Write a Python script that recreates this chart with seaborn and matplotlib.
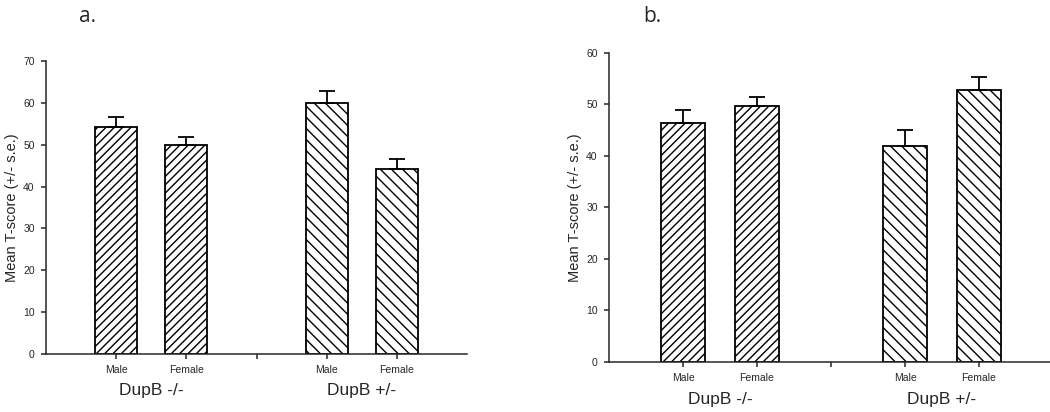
import numpy as np
import matplotlib
matplotlib.use('Agg')
import matplotlib.pyplot as plt
import matplotlib.transforms as mtransforms
import seaborn as sns
import pandas as pd

# Data
sexes = ['Male', 'Female', 'Male', 'Female']
genotypes = ['DupB -/-', 'DupB -/-', 'DupB +/-', 'DupB +/-']
positions = [1, 2, 4, 5]
tick_positions = [1, 2, 3, 4, 5]
tick_labels = ['Male', 'Female', '', 'Male', 'Female']
group_names = ['DupB -/-', 'DupB +/-']
group_centers = [1.5, 4.5]

mean_a = [54.3, 49.9, 60.0, 44.2]
se_a = [2.3, 1.9, 2.8, 2.4]
mean_b = [46.4, 49.7, 41.9, 52.8]
se_b = [2.5, 1.8, 3.1, 2.5]

hatches = {'DupB -/-': '////', 'DupB +/-': '\\\\\\'}

sns.set_style('ticks')
plt.rcParams['font.family'] = ['Liberation Sans', 'DejaVu Sans']
plt.rcParams['hatch.linewidth'] = 1.0

fig = plt.figure(figsize=(10.5, 4.12), dpi=100)
ax_a = fig.add_axes([0.0438, 0.1408, 0.401, 0.711])
ax_b = fig.add_axes([0.58, 0.1214, 0.4229, 0.750])


def panel(ax, means, ses, ymax, label_y):
    df = pd.DataFrame({'pos': positions, 'mean': means, 'se': ses,
                       'sex': sexes, 'genotype': genotypes})
    sns.barplot(data=df, x='pos', y='mean', native_scale=True, width=0.6,
                color='white', edgecolor='black', linewidth=1.3,
                errorbar=None, ax=ax)
    for bar, g in zip(ax.patches, df['genotype']):
        bar.set_hatch(hatches[g])
        bar.set_facecolor('white')
    # upper-only error bars
    ax.errorbar(df['pos'], df['mean'], yerr=[np.zeros(len(df)), df['se']],
                fmt='none', ecolor='black', elinewidth=1.3, capsize=5.5,
                capthick=1.3, zorder=3)
    ax.set_xlim(0, 6)
    ax.set_ylim(0, ymax)
    ax.set_yticks(np.arange(0, ymax + 1, 10))
    ax.set_xticks(tick_positions)
    ax.set_xticklabels(tick_labels)
    ax.tick_params(axis='both', labelsize=7.5, length=3.6, width=1.1, pad=4.5)
    ax.set_xlabel('')
    ax.set_ylabel('Mean T-score (+/- s.e.)', fontsize=10.5, labelpad=3)
    sns.despine(ax=ax)
    for s in ['left', 'bottom']:
        ax.spines[s].set_linewidth(1.1)
    trans = mtransforms.blended_transform_factory(ax.transData, ax.transAxes)
    for name, c in zip(group_names, group_centers):
        ax.text(c, label_y, name, transform=trans, ha='center', va='center',
                fontsize=12.5)


panel(ax_a, mean_a, se_a, 70, -0.123)
panel(ax_b, mean_b, se_b, 60, -0.12)

fig.text(88 / 1050, 1 - 17 / 412, 'a.', fontsize=15, ha='center', va='center',
         family=['Open Sans', 'DejaVu Sans'])
fig.text(652 / 1050, 1 - 17 / 412, 'b.', fontsize=15, ha='center', va='center',
         family=['Open Sans', 'DejaVu Sans'])

fig.savefig('out.png', dpi=100)
